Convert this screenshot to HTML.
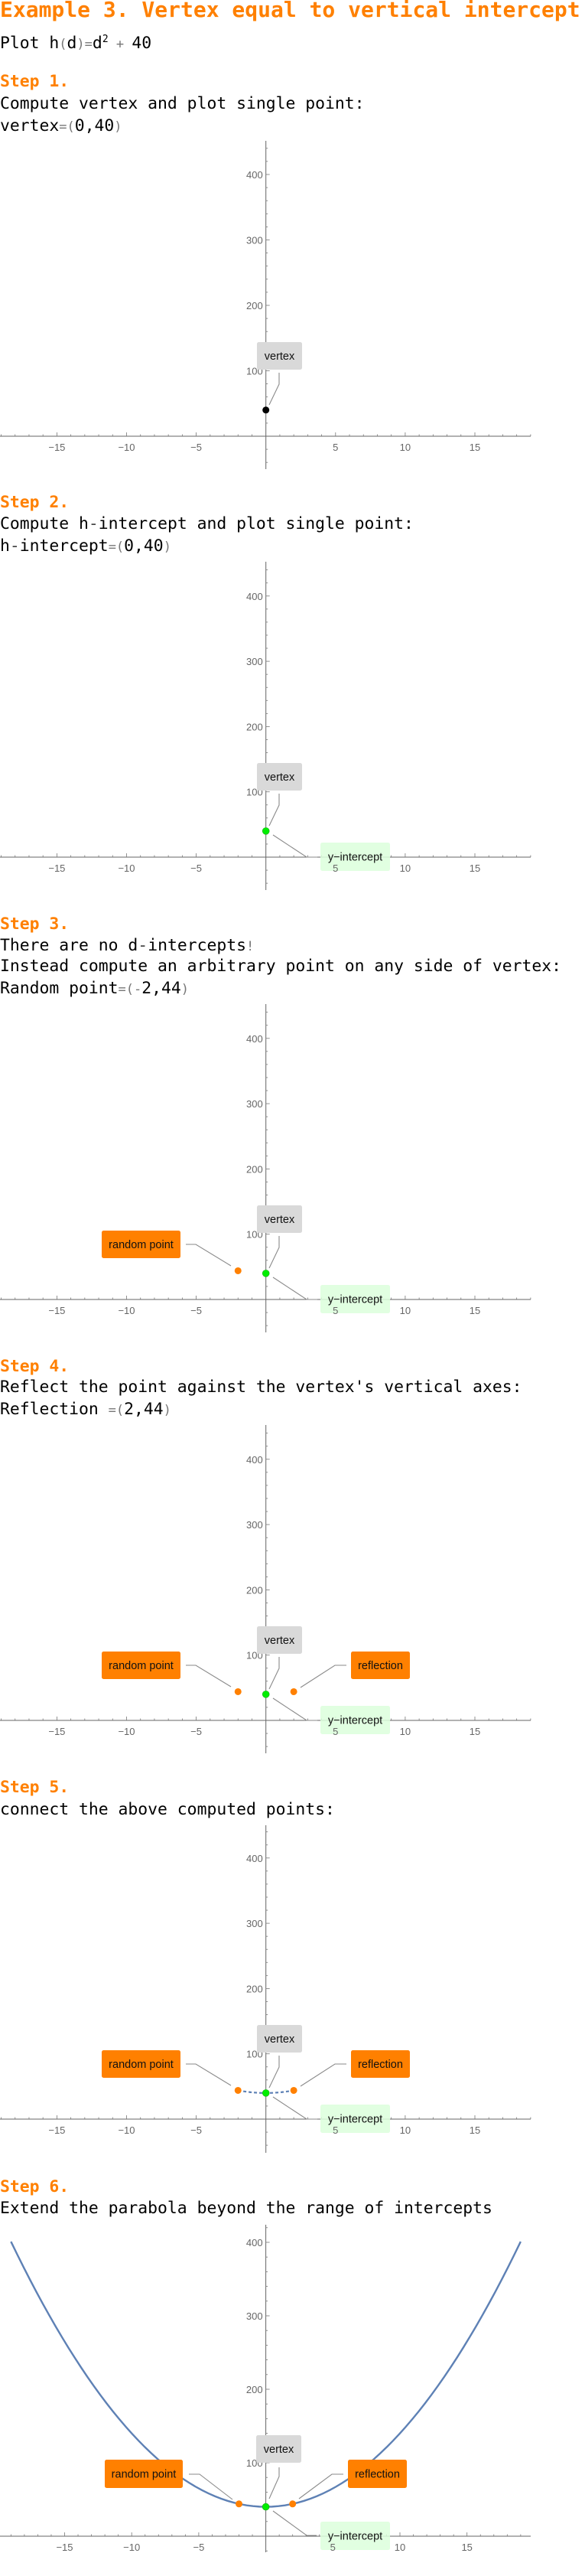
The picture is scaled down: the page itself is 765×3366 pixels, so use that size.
<!DOCTYPE html>
<html><head><meta charset="utf-8"><style>
html,body{margin:0;padding:0;background:#fff;}
body{width:765px;height:3366px;position:relative;overflow:hidden;}
.t{position:absolute;left:0;white-space:pre;font-family:"DejaVu Sans Mono","Liberation Mono",monospace;font-size:21.4px;line-height:29px;color:#000;}
.step{color:#FF8000;font-weight:bold;}
.title{color:#FF8000;font-weight:bold;font-size:28px;line-height:28px;}
.p{color:#777;font-size:17px;}
.m{color:#444;}
svg{position:absolute;left:0;top:0;}
</style></head><body>
<div class="t title" style="top:-1px">Example 3. Vertex equal to vertical intercept</div>
<div class="t" style="top:37px">Plot h<span class="p">(</span>d<span class="p">)</span><span class="p">=</span>d<sup style="font-size:13px">2</sup><span class="p"> + </span>40</div>
<div class="t step" style="top:92px">Step 1.</div>
<div class="t" style="top:121px">Compute vertex and plot single point:</div>
<div class="t" style="top:150px">vertex<span class="p">=(</span>0,40<span class="p">)</span></div>
<div class="t step" style="top:642px">Step 2.</div>
<div class="t" style="top:670px">Compute h<span class="m">-</span>intercept and plot single point:</div>
<div class="t" style="top:699px">h<span class="m">-</span>intercept<span class="p">=(</span>0,40<span class="p">)</span></div>
<div class="t step" style="top:1193px">Step 3.</div>
<div class="t" style="top:1221px">There are no d<span class="m">-</span>intercepts<span class="p">!</span></div>
<div class="t" style="top:1248px">Instead compute an arbitrary point on any side of vertex:</div>
<div class="t" style="top:1277px">Random point<span class="p">=(</span><span class="p">-</span>2,44<span class="p">)</span></div>
<div class="t step" style="top:1771px">Step 4.</div>
<div class="t" style="top:1798px">Reflect the point against the vertex's vertical axes:</div>
<div class="t" style="top:1827px">Reflection <span class="p">=(</span>2,44<span class="p">)</span></div>
<div class="t step" style="top:2321px">Step 5.</div>
<div class="t" style="top:2350px">connect the above computed points:</div>
<div class="t step" style="top:2843px">Step 6.</div>
<div class="t" style="top:2871px">Extend the parabola beyond the range of intercepts</div>
<svg id="s" width="765" height="3366" xmlns="http://www.w3.org/2000/svg"></svg>
<script>
// data
const xTickValues = [-15, -10, -5, 5, 10, 15];
const yTickValues = [100, 200, 300, 400];
const pointNames = ["vertex", "random point", "reflection"];
const pointX = [0, -2, 2];
const pointY = [40, 44, 44];
const parabolaCoeffs = [1, 0, 40]; // a, b, c of h(d)=a d^2 + b d + c
const connectRange = [-2, 2];
const extendRange = [-19, 19];

const NS = "http://www.w3.org/2000/svg";
const svg = document.getElementById("s");
function mk(tag, attrs, parent) {
  const e = document.createElementNS(NS, tag);
  for (const k in attrs) e.setAttribute(k, attrs[k]);
  (parent || svg).appendChild(e);
  return e;
}
function h(d) { return parabolaCoeffs[0] * d * d + parabolaCoeffs[1] * d + parabolaCoeffs[2]; }

// chart layouts (pixel geometry)
const charts = [
  {top:184, axis:570, bottom:613, ky:0.855, kx:18.22, x0:347.7, step:1},
  {top:734, axis:1120, bottom:1163, ky:0.853, kx:18.22, x0:347.7, step:2},
  {top:1312, axis:1698, bottom:1741, ky:0.853, kx:18.22, x0:347.7, step:3},
  {top:1862, axis:2248, bottom:2291, ky:0.853, kx:18.22, x0:347.7, step:4},
  {top:2385, axis:2769, bottom:2813, ky:0.853, kx:18.22, x0:347.7, step:5},
  {top:2907, axis:3314, bottom:3335, ky:0.96, kx:17.54, x0:347.6, step:6}
];

function label(g, name, text, box, fill, leader, axis) {
  const lg = mk("g", {}, g);
  
  
  mk("polyline", {points: leader.map(p => p[0] + "," + (axis + p[1])).join(" "), fill:"none", stroke:"#8a8a8a", "stroke-width":1.1}, lg);
  mk("rect", {x:box[0], y:axis + box[1], width:box[2]-box[0], height:box[3]-box[1], rx:2.5, fill:fill}, lg);
  const t = mk("text", {x:(box[0]+box[2])/2, y:axis + (box[1]+box[3])/2 + 5, "text-anchor":"middle", "font-family":"Liberation Sans, sans-serif", "font-size":14.5, fill:"#111"}, lg);
  t.textContent = text;
}

charts.forEach(c => {
  const g = mk("g", {});
  
  
  const X = d => c.x0 + d * c.kx;
  const Y = v => c.axis - v * c.ky;
  // x axis
  const xa = mk("line", {x1:0, x2:694, y1:c.axis, y2:c.axis, stroke:"#666", "stroke-width":1}, g);
  
  
  const dmin = Math.ceil(-c.x0 / c.kx), dmax = Math.floor((694 - c.x0) / c.kx);
  for (let d = dmin; d <= dmax; d++) {
    if (d === 0) continue;
    const major = d % 5 === 0;
    mk("line", {x1:X(d), x2:X(d), y1:c.axis, y2:c.axis - (major ? 5 : 2.5), stroke:"#777", "stroke-width":0.8}, g);
  }
  // y axis
  const ya = mk("line", {x1:c.x0, x2:c.x0, y1:c.top, y2:c.bottom, stroke:"#666", "stroke-width":1}, g);
  
  
  for (let v = -40; v <= 440; v += 20) {
    if (v === 0) continue;
    const y = Y(v);
    if (y < c.top || y > c.bottom) continue;
    const major = v % 100 === 0;
    mk("line", {x1:c.x0, x2:c.x0 + (major ? 5 : 2.5), y1:y, y2:y, stroke:"#777", "stroke-width":0.8}, g);
  }
  yTickValues.forEach(v => {
    const t = mk("text", {x:c.x0 - 4, y:Y(v) + 5, "text-anchor":"end", "font-family":"Liberation Sans, sans-serif", "font-size":13, fill:"#666"}, g);
    
    
    t.textContent = v;
  });
  // curves
  if (c.step === 5 || c.step === 6) {
    const r = c.step === 5 ? connectRange : extendRange;
    const pts = [];
    for (let i = 0; i <= 80; i++) { const d = r[0] + (r[1] - r[0]) * i / 80; pts.push(X(d).toFixed(2) + "," + Y(h(d)).toFixed(2)); }
    const pl = mk("polyline", {points:pts.join(" "), fill:"none", stroke:"#5E81B5", "stroke-width": c.step === 5 ? 2.2 : 2.4, "stroke-dasharray": c.step === 5 ? "4,3" : "none"}, g);
    
    
  }
  // labels
  const big = c.step === 6;
  const vb = big ? {box:[335,-132,394,-96], l:[[365,-90],[365,-78],[352,-49]]} : {box:[336,-123,395,-87], l:[[365,-83],[365,-68],[352,-41]]};
  label(g, "vertex", "vertex", vb.box, "#D9D9D9", vb.l, c.axis);
  if (c.step >= 2) {
    const yl = big ? [[357,-33],[401,-1],[414,-1]] : [[357,-29],[401,0],[415,0]];
    label(g, "y-intercept", "y\u2212intercept", [419,-19,510,18], "rgba(220,255,220,0.85)", yl, c.axis);
  }
  if (c.step >= 3) {
    if (big) label(g, "random-point", "random point", [137,-100,239,-63], "#FF8000", [[247,-81],[261,-81],[304,-48]], c.axis);
    else label(g, "random-point", "random point", [133,-90,236,-54], "#FF8000", [[243,-72],[256,-72],[302,-44]], c.axis);
  }
  if (c.step >= 4) {
    if (big) label(g, "reflection", "reflection", [455,-100,532,-63], "#FF8000", [[449,-81],[434,-81],[391,-49]], c.axis);
    else label(g, "reflection", "reflection", [459,-90,536,-54], "#FF8000", [[453,-72],[438,-72],[393,-43]], c.axis);
  }
  // x tick labels drawn after labels (visible through y-intercept box)
  xTickValues.forEach(v => {
    const t = mk("text", {x:X(v), y:c.axis + 19, "text-anchor":"middle", "font-family":"Liberation Sans, sans-serif", "font-size":13, fill:"#666"}, g);
    
    
    t.textContent = (v < 0 ? "\u2212" : "") + Math.abs(v);
  });
  // points
  const nPts = c.step === 1 || c.step === 2 ? 1 : (c.step === 3 ? 2 : 3);
  for (let i = 0; i < nPts; i++) {
    let fill = i === 0 ? (c.step === 1 ? "#000" : "#00EE00") : "#FF8000";
    const p = mk("circle", {cx:X(pointX[i]), cy:Y(pointY[i]), r:4.5, fill:fill, stroke: i === 0 && c.step > 1 ? "#22aa22" : "none", "stroke-width":0.6}, g);
    
    
  }
});
</script>
</body></html>
